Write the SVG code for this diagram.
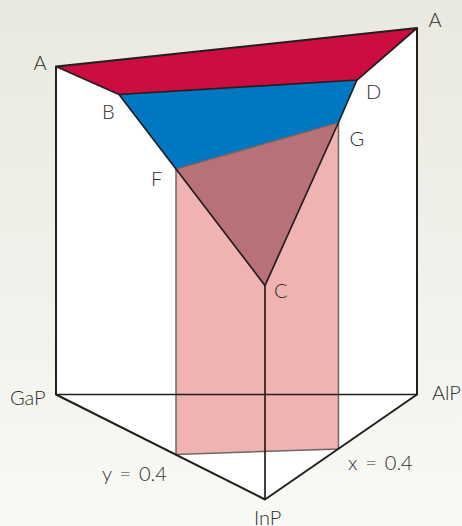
<svg xmlns="http://www.w3.org/2000/svg" width="462" height="526" viewBox="0 0 462 526">
<defs>
<linearGradient id="bg" x1="0" y1="0" x2="0" y2="1"><stop offset="0" stop-color="#e9e9e1"/><stop offset="1" stop-color="#f9f9f5"/></linearGradient>
</defs>
<style>
.e{fill:none;stroke:#231f20;stroke-width:2;stroke-linejoin:round;stroke-linecap:round}
.t{stroke:#231f20;stroke-width:1.7;fill:none}
.g{fill:none;stroke:#6f6565;stroke-width:1.5}
text{font-family:"Lato","Open Sans",sans-serif;font-size:20px;font-weight:300;fill:#2e2e2e}
.m{word-spacing:2.5px}
</style>
<rect width="462" height="526" fill="url(#bg)"/>
<g id="prism-body"><polygon points="56,66.5 417,28 417,394.5 265,499.5 56,394.5" fill="#fff"/></g>
<g id="section"><polygon points="176,169 338.5,122.5 338.5,449 176,454.5" fill="#efb3b1"/><polygon points="176,169 338.5,122.5 265,285.5" fill="#b87177"/></g>
<g id="blue-region"><polygon points="119,94.5 357,80 338.5,122.5 176,169" fill="#0078c1"/></g>
<g id="red-region"><polygon points="56,66.5 417,28 357,80 119,94.5" fill="#cb0d3f"/></g>
<g id="connectors">
<path class="g" d="M176,169V454.5L338.5,449V122.5L176,169"/>
<path class="e" d="M56,66.5L417,28V394.5L265,499.5L56,394.5Z"/>
<path class="t" d="M56,394.5H417M265,285.5V499.5"/>
<path class="t" d="M56,66.5L119,94.5L176,169L265,285.5L338.5,122.5L357,80L417,28M119,94.5L357,80"/>
</g>
<g id="labels">
<text x="33.5" y="70">A</text>
<text x="428.5" y="27">A</text>
<text x="102" y="119">B</text>
<text x="366" y="99">D</text>
<text x="349.5" y="146">G</text>
<text x="151" y="186">F</text>
<text x="274" y="298">C</text>
<text x="10" y="405">GaP</text>
<text x="432" y="400">AlP</text>
<text class="m" x="102" y="481">y = 0.4</text>
<text class="m" x="348" y="470">x = 0.4</text>
<text x="254" y="524.5">InP</text>
</g>
</svg>
